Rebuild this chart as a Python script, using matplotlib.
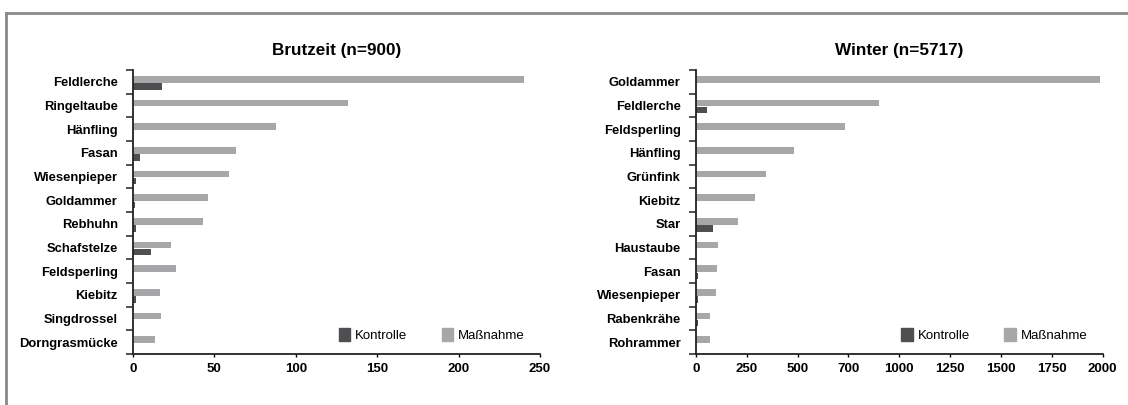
import matplotlib
matplotlib.use("Agg")
import matplotlib.pyplot as plt
from matplotlib.patches import Patch
from matplotlib.lines import Line2D
import numpy as np

plt.rcParams['font.family'] = ['Liberation Sans', 'DejaVu Sans']

# Brutzeit (breeding season)
brut_species = ["Feldlerche", "Ringeltaube", "Hänfling", "Fasan", "Wiesenpieper", "Goldammer",
                "Rebhuhn", "Schafstelze", "Feldsperling", "Kiebitz", "Singdrossel", "Dorngrasmücke"]
brut_massnahme = [240, 132, 88, 63, 59, 46, 43, 23.5, 26.5, 16.7, 17.3, 13.6]
brut_kontrolle = [18, 0, 0, 4, 2, 1, 2, 11, 0, 2, 0, 0]

# Winter
wint_species = ["Goldammer", "Feldlerche", "Feldsperling", "Hänfling", "Grünfink", "Kiebitz",
                "Star", "Haustaube", "Fasan", "Wiesenpieper", "Rabenkrähe", "Rohrammer"]
wint_massnahme = [1987, 900, 734, 483, 346, 290, 207, 109, 103, 100, 70, 70]
wint_kontrolle = [0, 55, 0, 0, 0, 0, 84, 0, 10, 10, 10, 0]

brut_ticks = [0, 50, 100, 150, 200, 250]
brut_ticklabels = ["0", "50", "100", "150", "200", "250"]
wint_ticks = [0, 250, 500, 750, 1000, 1250, 1500, 1750, 2000]
wint_ticklabels = ["0", "250", "500", "700", "1000", "1250", "1500", "1750", "2000"]

light = "#a7a7aa"
dark = "#4f4f51"


def draw_panel(ax, title, species, massnahme, kontrolle, xmax, ticks, ticklabels):
    pos = np.arange(len(species))
    ax.barh(pos - 0.105, massnahme, height=0.28, color=light, label="Maßnahme")
    ax.barh(pos + 0.197, kontrolle, height=0.27, color=dark, label="Kontrolle")
    ax.set_xlim(0, xmax)
    ax.set_ylim(len(species) - 0.5, -0.5)
    for s in ["top", "right"]:
        ax.spines[s].set_visible(False)
    for s in ["left", "bottom"]:
        ax.spines[s].set_linewidth(1.3)
        ax.spines[s].set_color("#222222")
    # category boundaries as major ticks, names on minor ticks
    ax.set_yticks(np.arange(len(species) + 1) - 0.5)
    ax.set_yticklabels([])
    ax.set_yticks(pos, minor=True)
    ax.set_yticklabels(species, minor=True, fontsize=9.4, fontweight="bold")
    ax.tick_params(axis="y", which="major", length=5, width=1.2, color="#333333", direction="out")
    ax.tick_params(axis="y", which="minor", length=0, pad=11)
    ax.set_xticks(ticks)
    ax.set_xticklabels(ticklabels, fontsize=9.5, fontweight="bold")
    ax.tick_params(axis="x", length=2.5, width=1.0, pad=4, direction="out")
    ax.set_title(title, fontsize=12.3, fontweight="bold", pad=11)
    handles = [Patch(color=dark), Patch(color=light)]
    ax.legend(handles, ["Kontrolle", "Maßnahme"], loc="center left",
              bbox_to_anchor=(0.505, 0.067), ncol=2, frameon=False, fontsize=9.5,
              handlelength=0.9, handleheight=1.1, handletextpad=0.35,
              columnspacing=2.6, borderpad=0, borderaxespad=0)


fig = plt.figure(figsize=(11.28, 4.05), dpi=100)
ax1 = fig.add_axes([0.1179, 0.1259, 0.3608, 0.7012])
ax2 = fig.add_axes([0.617, 0.1259, 0.3604, 0.7012])

draw_panel(ax1, "Brutzeit (n=900)", brut_species, brut_massnahme, brut_kontrolle, 250,
           brut_ticks, brut_ticklabels)
draw_panel(ax2, "Winter (n=5717)", wint_species, wint_massnahme, wint_kontrolle, 2000,
           wint_ticks, wint_ticklabels)

# gray frame around the figure (top and left edges visible)
fig.add_artist(Line2D([0.0053, 1.0], [1 - 12.5 / 405, 1 - 12.5 / 405], color="#8a8a8a", lw=2, transform=fig.transFigure))
fig.add_artist(Line2D([6 / 1128, 6 / 1128], [0, 1 - 12.5 / 405], color="#8a8a8a", lw=2, transform=fig.transFigure))

fig.savefig("out.png", dpi=100)
